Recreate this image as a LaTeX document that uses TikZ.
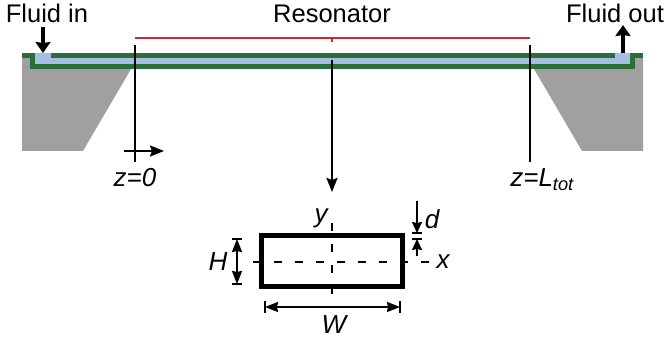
\documentclass[tikz,border=0pt]{standalone}
\usepackage{fontspec}
\setmainfont{Liberation Sans}
\usetikzlibrary{arrows.meta, positioning}
\definecolor{wallgreen}{RGB}{42,110,56}
\definecolor{fluidblue}{RGB}{165,190,226}
\definecolor{bulkgray}{RGB}{160,160,160}
\definecolor{resred}{RGB}{205,40,50}

\begin{document}
\begin{tikzpicture}[
    x = 1pt,
    y = -1pt,
    > = {Stealth[length=14pt, width=11pt, inset=2pt]}, % arrow head style
    line width = 2.2pt, % line style
    font=\fontsize{25.5}{25.5}\selectfont,
    inner sep = 0pt,
    label text/.style = {text height=18pt, text depth=0pt},
    math text/.style = {font=\fontsize{26}{26}\selectfont\itshape},
    tick/.style = {line width=1.6pt},
    dim arrow/.style = {<->, line width=1.8pt, > = {Stealth[length=13pt, width=10pt, inset=1pt]}},
    flow arrow/.style = {->, line width=4pt, > = {Stealth[length=11pt, width=15pt, inset=1pt]}},
    center line/.style = {line width=1.8pt, dash pattern=on 8pt off 13pt},
]
\useasboundingbox (0,0) rectangle (666,339);

% substrate
\fill[bulkgray] (22,56) -- (131,56) -- (131,69) -- (83,151) -- (22,151) -- cycle;
\fill[bulkgray] (643,56) -- (534,56) -- (534,69) -- (582,151) -- (643,151) -- cycle;

% channel
\fill[fluidblue] (35,53) -- (51,53) -- (51,58) -- (615,58) -- (615,53) -- (630,53) -- (630,64) -- (35,64) -- cycle;
\fill[wallgreen] (22,53) rectangle (35,58);
\fill[wallgreen] (30,53) rectangle (35,69);
\fill[wallgreen] (30,64) rectangle (635,69);
\fill[wallgreen] (51,53) rectangle (615,58);
\fill[wallgreen] (630,53) rectangle (635,69);
\fill[wallgreen] (630,53) rectangle (643,58);

\coordinate (inlet) at (43,53);
\coordinate (outlet) at (623,53);
\coordinate (zs) at (135,45);
\coordinate (ze) at (530,45);
\coordinate (zsb) at (135,162);
\coordinate (zeb) at (530,162);
\coordinate (axs) at (124,151);
\coordinate (axe) at (164,151);
\coordinate (rl) at (135,38.5);
\coordinate (rr) at (530,38.5);
\coordinate (rm) at (332,38.5);
\coordinate (rmb) at (332,42);
\coordinate (midtop) at (332,60);
\coordinate (midbot) at (332,192);

% labels at the top
\node[label text] (fin) at (47,14) {Fluid in};
\node[label text] (fout) at (615,14) {Fluid out};
\node[label text] (res) at (332,14) {Resonator};
\node[math text] (z0) [below=5pt of zsb] {z=0};
\node[math text] (zl) [below=6pt of zeb, xshift=12pt] {z=L$_{\mathit{tot}}$};

\draw[flow arrow] (43,27) coordinate (inb) -- (inlet);
\draw[flow arrow] (outlet) -- (623,25) coordinate (oute);

\draw[resred, line width=2pt] (rl) -- (rr);
\draw[resred, line width=1.4pt] (rm) -- (rmb);

\draw (zs) -- (zsb);
\draw (ze) -- (zeb);
\draw[->] (axs) -- (axe);
\draw[->] (midtop) -- (midbot);

% cross section
\coordinate (hl) at (253,262);
\coordinate (hr) at (432,262);
\coordinate (vt) at (332,223);
\coordinate (vb) at (332,296);
\draw[center line] (hl) -- (hr);
\draw[center line] (vt) -- (vb);
\node[draw, line width=5pt, minimum width=141pt, minimum height=51pt] (sec) at (332,261) {};

\node[math text] (ylab) at (321,218) {y};
\node[math text] (xlab) at (443,262) {x};
\node[math text] (hlab) at (218,262) {H};
\node[math text] (wlab) at (334,325) {W};
\node[math text] (dlab) at (432,219) {d};

% dimensions
\coordinate (ht) at (237,239);
\coordinate (hb) at (237,284);
\draw[dim arrow] (ht) -- (hb);
\draw[tick] (232,239) -- (242,239);
\draw[tick] (232,284) -- (242,284);

\coordinate (wl) at (265,307);
\coordinate (wr) at (400,307);
\draw[dim arrow] (wl) -- (wr);
\draw[tick] (265,301) -- (265,313);
\draw[tick] (400,301) -- (400,313);

\coordinate (dt) at (417,233);
\coordinate (db) at (417,239);
\draw[tick, ->, > = {Stealth[length=11pt, width=10pt, inset=1pt]}] (417,201) -- (dt);
\draw[tick, ->, > = {Stealth[length=11pt, width=10pt, inset=1pt]}] (417,256) -- (db);
\draw[tick] (412,233) -- (422,233);
\draw[tick] (412,239) -- (422,239);
\end{tikzpicture}
\end{document}
